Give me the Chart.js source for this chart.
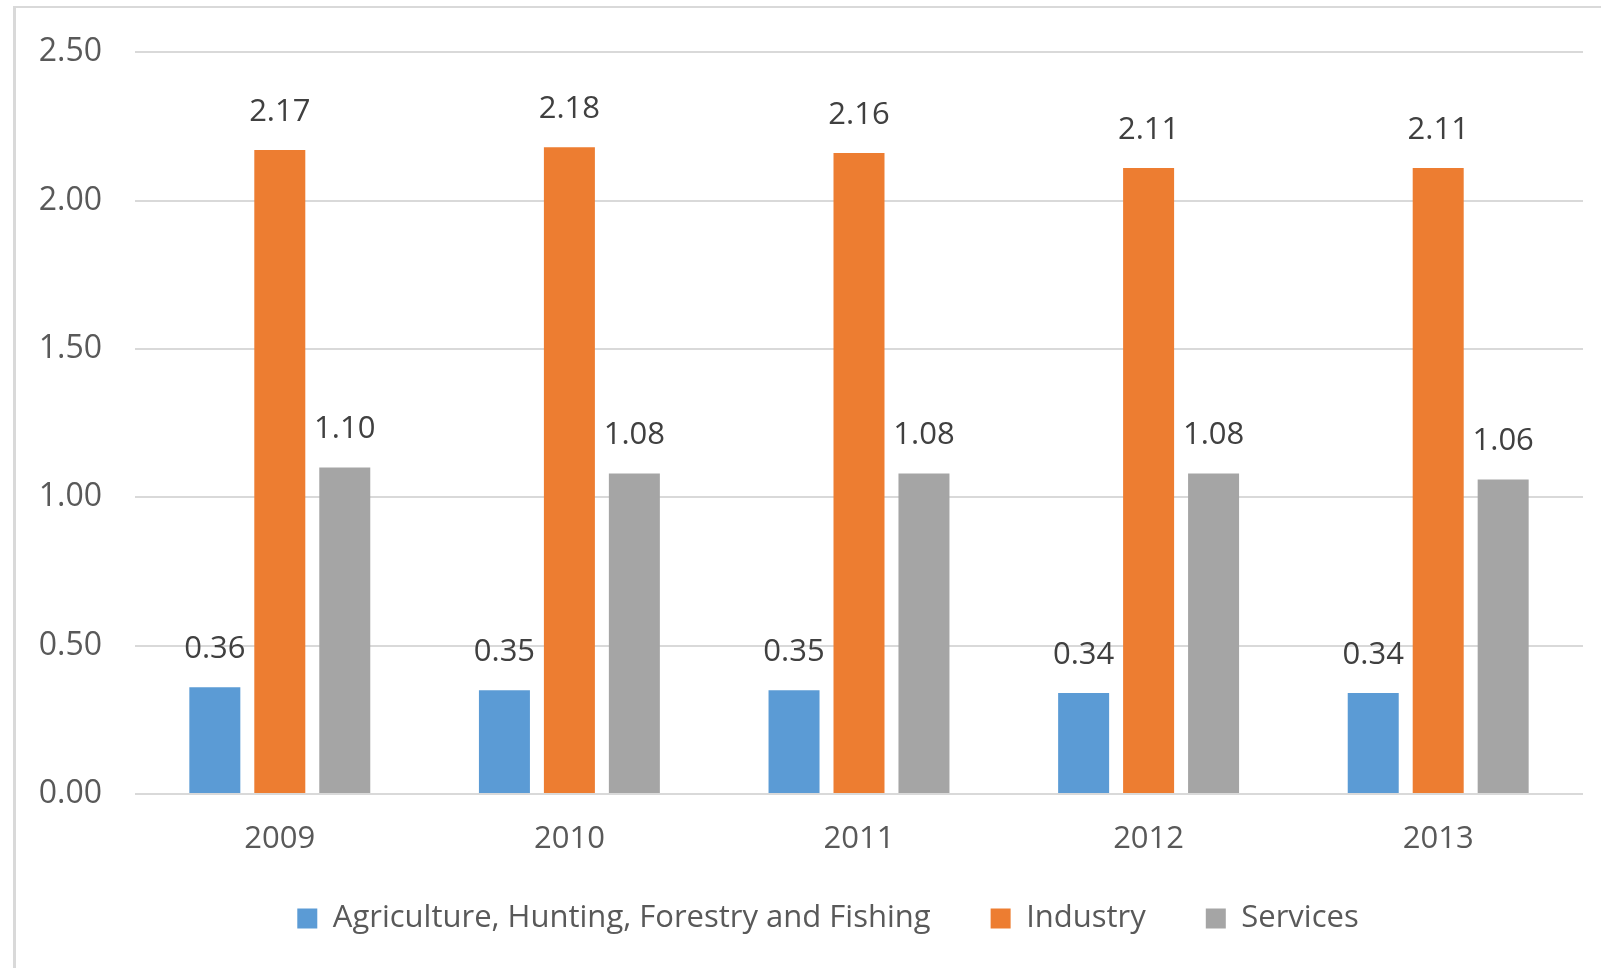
<!DOCTYPE html>
<html>
<head>
<meta charset="utf-8">
<script src="https://cdn.jsdelivr.net/npm/chart.js@4.4.1/dist/chart.umd.min.js"></script>
<style>
    html, body { margin: 0; padding: 0; background: #fff; overflow: hidden; }
    #frame { position: absolute; left: 13px; top: 6px; width: 1600px; height: 980px; border-left: 3px solid #d9d9d9; border-top: 2px solid #d9d9d9; }
    #wrap { position: absolute; left: 0; top: 0; width: 1601px; height: 968px; }
</style>
</head>
<body>
<div id="frame"></div>
<div id="wrap"><canvas id="salaryChart"></canvas></div>
<script>
const years = ['2009', '2010', '2011', '2012', '2013'];
const agriculture = [0.36, 0.35, 0.35, 0.34, 0.34];
const industry = [2.17, 2.18, 2.16, 2.11, 2.11];
const services = [1.10, 1.08, 1.08, 1.08, 1.06];
const seriesNames = ['Agriculture, Hunting, Forestry and Fishing', 'Industry', 'Services'];
const seriesColors = ['#5b9bd5', '#ed7d31', '#a5a5a5'];

const FONT = "'Open Sans', sans-serif";

// etiquetas encima de cada barra
const valueLabels = {
    id: 'valueLabels',
    afterDatasetsDraw(chart) {
        const ctx = chart.ctx;
        ctx.save();
        ctx.font = '31px ' + FONT;
        ctx.fillStyle = '#404040';
        ctx.textAlign = 'center';
        ctx.textBaseline = 'middle';
        chart.data.datasets.forEach((ds, i) => {
            chart.getDatasetMeta(i).data.forEach((bar, j) => {
                ctx.fillText(ds.data[j].toFixed(2), bar.x, bar.y - 38);
            });
        });
        ctx.restore();
    }
};

// acercar la leyenda al eje (el padding de la leyenda es el mismo en horizontal y vertical)
const legendShift = {
    id: 'legendShift',
    afterLayout(chart) {
        const lg = chart.legend;
        if (!lg) return;
        lg.top -= 15; lg.bottom -= 15;
        lg.left += 19; lg.right += 19;
    }
};

const ctx = document.getElementById('salaryChart').getContext('2d');
new Chart(ctx, {
    type: 'bar',
    data: {
        labels: years,
        datasets: [agriculture, industry, services].map((d, i) => ({
            label: seriesNames[i], data: d, backgroundColor: seriesColors[i], borderWidth: 0
        }))
    },
    options: {
        responsive: true, maintainAspectRatio: false, animation: false,
        layout: { padding: { left: 35, right: 18, top: 47, bottom: 9 } },
        datasets: { bar: { categoryPercentage: 0.673, barPercentage: 0.785 } },
        scales: {
            x: {
                afterFit: s => { s.height = 64; },
                grid: { display: false, drawTicks: false },
                border: { display: false },
                ticks: { color: '#595959', font: { family: FONT, size: 31, lineHeight: 0.34 }, padding: 40 }
            },
            y: {
                min: 0, max: 2.5,
                afterFit: s => { s.width = 100; },
                grid: { color: '#d9d9d9', lineWidth: 2, drawTicks: false },
                border: { display: false },
                ticks: { stepSize: 0.5, color: '#595959', font: { family: FONT, size: 32 }, padding: 33,
                         callback: v => v.toFixed(2) }
            }
        },
        plugins: {
            tooltip: { enabled: false },
            legend: {
                position: 'bottom',
                labels: { boxWidth: 20, boxHeight: 20, padding: 60, color: '#595959', font: { family: FONT, size: 31 } }
            }
        }
    },
    plugins: [valueLabels, legendShift]
});
</script>
</body>
</html>
